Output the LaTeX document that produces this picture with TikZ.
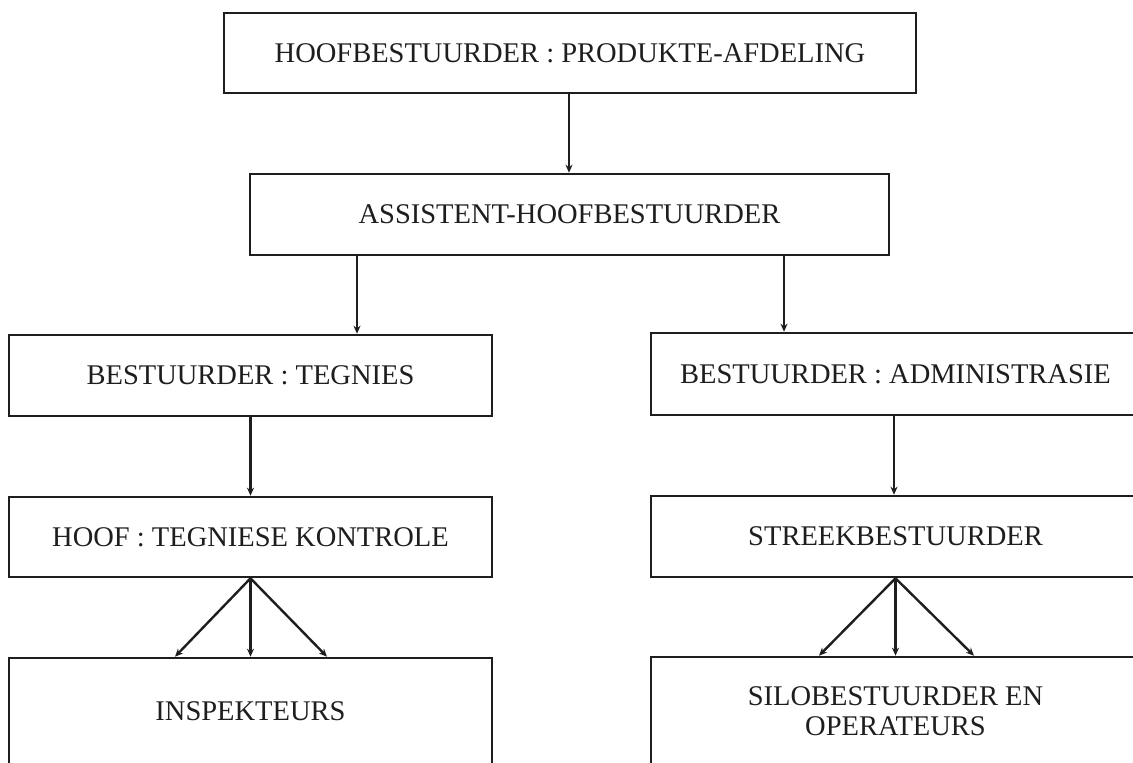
\documentclass[tikz,border=0pt]{standalone}
\usepackage{fontspec}
\setmainfont{Liberation Serif}
\usetikzlibrary{arrows.meta}
\definecolor{ink}{HTML}{1E1E1E}
\begin{document}
\begin{tikzpicture}[x=1pt,y=-1pt,
  box/.style={draw=ink, line width=2.6pt, rectangle, inner sep=0pt, text=ink,
    font=\fontsize{28.5}{30}\selectfont, align=center},
  arr/.style={draw=ink, line width=2.4pt, -{Stealth[length=8pt,width=7pt]}}]
\fill[white] (0,0) rectangle (1133,763);
\useasboundingbox (0,0) rectangle (1133,763);
% boxes
\node[box, minimum width=692pt, minimum height=80pt] (top) at (570,53) {HOOFBESTUURDER : PRODUKTE-AFDELING};
\node[box, minimum width=639pt, minimum height=81pt] (asst) at (569.5,214.5) {ASSISTENT-HOOFBESTUURDER};
\node[box, minimum width=483pt, minimum height=81pt] (bt) at (250.5,375.5) {BESTUURDER : TEGNIES};
\node[box, minimum width=489pt, minimum height=82pt] (ba) at (895.5,374) {BESTUURDER : ADMINISTRASIE};
\node[box, minimum width=483pt, minimum height=80pt] (hk) at (250.5,537) {HOOF : TEGNIESE KONTROLE};
\node[box, minimum width=489pt, minimum height=81pt] (sb) at (895.5,536.5) {STREEKBESTUURDER};
\node[box, minimum width=483pt, minimum height=107pt] (insp) at (250.5,711.5) {INSPEKTEURS};
\node[box, minimum width=489pt, minimum height=108pt] (silo) at (895.5,711) {SILOBESTUURDER EN\\OPERATEURS};
% arrow positions
\coordinate (xa) at (569,0);
\coordinate (xl) at (357,0);
\coordinate (xr) at (784,0);
\coordinate (xrr) at (894,0);
\coordinate (f1) at (175,0);
\coordinate (f2) at (327,0);
\coordinate (g1) at (819,0);
\coordinate (g2) at (974,0);
% connectors
\draw[arr] (top.south -| xa) -- (asst.north -| xa);
\draw[arr] (asst.south -| xl) -- (bt.north -| xl);
\draw[arr] (asst.south -| xr) -- (ba.north -| xr);
\draw[arr] (bt.south) -- (hk.north);
\draw[arr] (ba.south -| xrr) -- (sb.north -| xrr);
\draw[arr] (hk.south) -- (insp.north -| f1);
\draw[arr] (hk.south) -- (insp.north);
\draw[arr] (hk.south) -- (insp.north -| f2);
\draw[arr] (sb.south) -- (silo.north -| g1);
\draw[arr] (sb.south) -- (silo.north);
\draw[arr] (sb.south) -- (silo.north -| g2);
\end{tikzpicture}
\end{document}
